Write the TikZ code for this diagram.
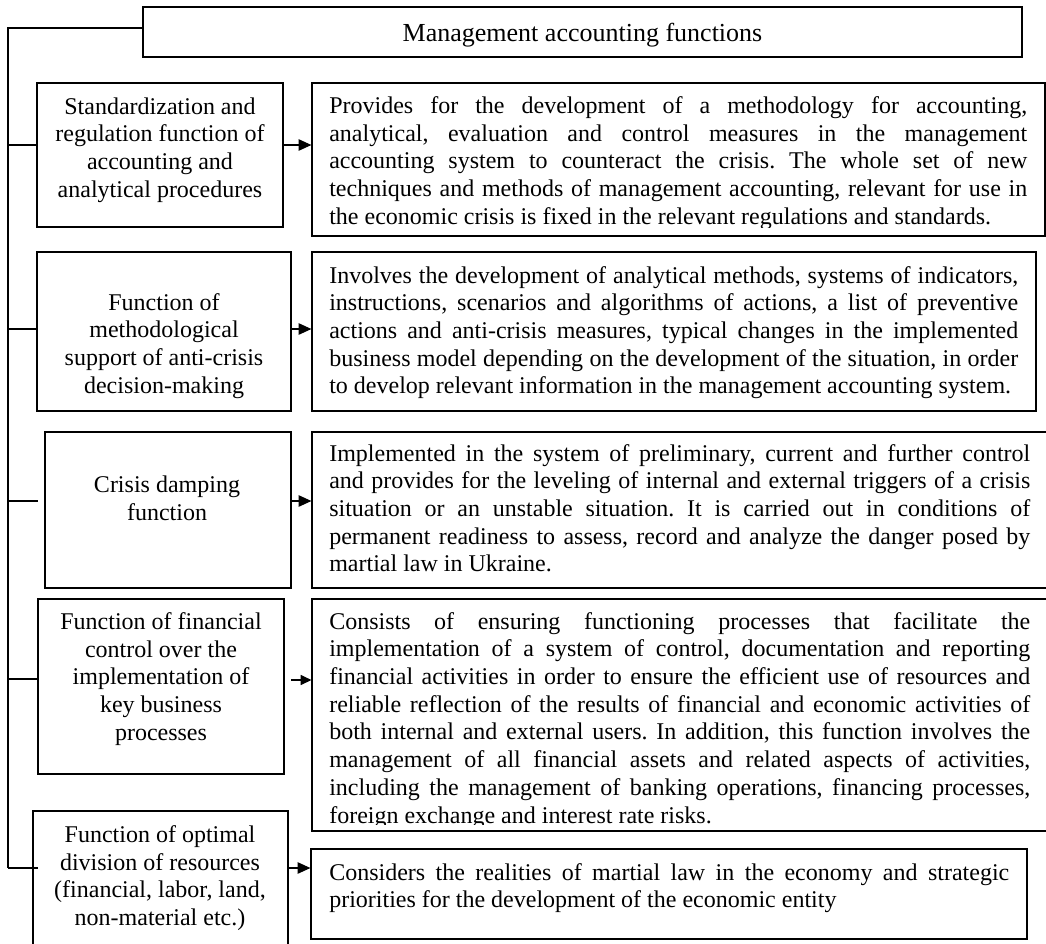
\documentclass[tikz,border=0pt]{standalone}
\usepackage{fontspec}
\setmainfont{Liberation Serif}
\usetikzlibrary{arrows.meta,fit}
\hyphenpenalty=10000
\tolerance=9999
\hbadness=10000
\hfuzz=5pt
\frenchspacing
\begin{document}
\begin{tikzpicture}[x=0.75pt,y=-0.75pt,
  box/.style={draw, line width=0.9pt, inner sep=0pt, rectangle},
  txt/.style={font=\fontsize{18}{20.8}\selectfont, inner sep=0pt},
  lbl/.style={txt, align=center},
  para/.style={txt, align=justify, anchor=base west},
  conn/.style={line width=0.9pt},
  arr/.style={line width=0.9pt, -{Triangle[length=9.5pt,width=8.5pt]}},
  smallarr/.style={line width=0.9pt, -{Triangle[length=8pt,width=7.5pt]}}]
\useasboundingbox (0,0) rectangle (1046,943);

% title
\node[box, fit={(143,7) (1022,57)}] (top) {};
\node[txt, font=\fontsize{19.5}{22}\selectfont, anchor=base] (title) at (582.5,41.5) {Management accounting functions};

% left boxes
\node[box, fit={(37,83) (283,227)}] (L1) {};
\node[box, fit={(37,252) (291,411)}] (L2) {};
\node[box, fit={(45,432) (291,588)}] (L3) {};
\node[box, fit={(38,599) (284,774)}] (L4) {};
\node[box, fit={(33,811) (288,960)}] (L5) {};

% right boxes
\node[box, fit={(312,83) (1045,236)}] (R1) {};
\node[box, fit={(312,252) (1036,411)}] (R2) {};
\node[box, fit={(312,432) (1060,588)}] (R3) {};
\node[box, fit={(312,599) (1060,831)}] (R4) {};
\node[box, fit={(311,849) (1027,939)}] (R5) {};

% left texts
\node[lbl] (t1) at (160,150) {Standardization and\\regulation function of\\accounting and\\analytical procedures};
\node[lbl] (t2) at (164,346) {Function of\\methodological\\support of anti-crisis\\decision-making};
\node[lbl] (t3) at (167,498) {Crisis damping\\function};
\node[lbl] (t4) at (161,679) {Function of financial\\control over the\\implementation of\\key business\\processes};
\node[lbl] (t5) at (160,878) {Function of optimal\\division of resources\\(financial, labor, land,\\non-material etc.)};

% right texts
\begin{scope}
\clip (312,83) rectangle (1045,227);
\node[para, text width={(1027-329)*0.75pt}] (p1) at (329,113.5) {Provides for the development of a methodology for accounting,\linebreak
analytical, evaluation and control measures in the management\linebreak
accounting system to counteract the crisis. The whole set of new\linebreak
techniques and methods of management accounting, relevant for use in\linebreak
the economic crisis is fixed in the relevant regulations and standards.};
\end{scope}
\node[para, text width={(1018-329)*0.75pt}] (p2) at (329,283) {Involves the development of analytical methods, systems of indicators,\linebreak
instructions, scenarios and algorithms of actions, a list of preventive\linebreak
actions and anti-crisis measures, typical changes in the implemented\linebreak
business model depending on the development of the situation, in order\linebreak
to develop relevant information in the management accounting system.};
\node[para, text width={(1030-329)*0.75pt}] (p3) at (329,461) {Implemented in the system of preliminary, current and further control\linebreak
and provides for the leveling of internal and external triggers of a crisis\linebreak
situation or an unstable situation. It is carried out in conditions of\linebreak
permanent readiness to assess, record and analyze the danger posed by\linebreak
martial law in Ukraine.};
\begin{scope}
\clip (312,599) rectangle (1046,824);
\node[para, text width={(1030-329)*0.75pt}] (p4) at (329,629) {Consists of ensuring functioning processes that facilitate the\linebreak
implementation of a system of control, documentation and reporting\linebreak
financial activities in order to ensure the efficient use of resources and\linebreak
reliable reflection of the results of financial and economic activities of\linebreak
both internal and external users. In addition, this function involves the\linebreak
management of all financial assets and related aspects of activities,\linebreak
including the management of banking operations, financing processes,\linebreak
foreign exchange and interest rate risks.};
\end{scope}
\node[para, text width={(1009-329)*0.75pt}] (p5) at (329,880) {Considers the realities of martial law in the economy and strategic\linebreak
priorities for the development of the economic entity};

% spine and branches
\coordinate (s0) at (8,28);
\coordinate (s1) at (8,145);
\coordinate (s2) at (8,329);
\coordinate (s3) at (8,501);
\coordinate (s4) at (8,679);
\coordinate (s5) at (8,868);
\coordinate (e3) at (38,501);
\coordinate (e5) at (38,868);
\coordinate (a4) at (291,680);

\draw[conn] (s0 -| top.west) -- (s0) -- (s5);
\draw[conn] (s1) -- (s1 -| L1.west);
\draw[conn] (s2) -- (s2 -| L2.west);
\draw[conn] (s3) -- (e3);
\draw[conn] (s4) -- (s4 -| L4.west);
\draw[conn] (s5) -- (e5);

% arrows
\draw[arr] (s1 -| L1.east) -- (s1 -| R1.west);
\draw[arr] (s2 -| L2.east) -- (s2 -| R2.west);
\draw[arr] (s3 -| L3.east) -- (s3 -| R3.west);
\draw[smallarr] (a4) -- (a4 -| R4.west);
\draw[arr] (s5 -| L5.east) -- (s5 -| R5.west);
\end{tikzpicture}
\end{document}
